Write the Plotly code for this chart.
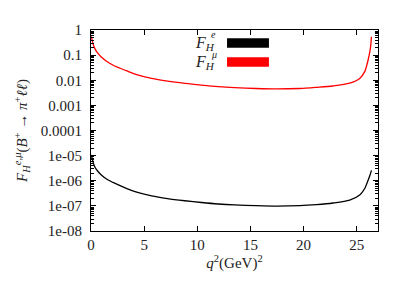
import plotly.graph_objects as go

# q^2 values (GeV^2)
q2 = [0.03, 0.15, 0.34, 0.6, 0.97, 1.5, 2.22, 3.32, 4.14, 5.7, 7.2, 8.83, 10.4, 11.96, 13.5,
      15.5, 17.5, 19.64, 21.2, 22.77, 24.34, 25.28, 25.75, 26.07, 26.25, 26.32, 26.38]
# F_H^mu (red)
f_mu = [0.56, 0.33, 0.19, 0.125, 0.085, 0.056, 0.037, 0.024, 0.0175, 0.0118, 0.0092, 0.0075,
        0.0064, 0.0056, 0.0051, 0.0047, 0.0045, 0.0047, 0.0052, 0.0059, 0.0076, 0.0118,
        0.022, 0.064, 0.15, 0.25, 0.54]
# F_H^e (black)
f_e = [1.07e-5, 6.5e-6, 3.7e-6, 2.5e-6, 1.7e-6, 1.15e-6, 8e-7, 5e-7, 3.7e-7, 2.5e-7, 1.95e-7,
       1.6e-7, 1.36e-7, 1.19e-7, 1.09e-7, 1.02e-7, 9.8e-8, 1.02e-7, 1.12e-7, 1.3e-7, 1.7e-7,
       2.7e-7, 4.9e-7, 1.05e-6, 1.7e-6, 2.1e-6, 2.6e-6]

ytick_vals = [1, 0.1, 0.01, 0.001, 0.0001, 1e-5, 1e-6, 1e-7, 1e-8]
ytick_text = ["1", "0.1", "0.01", "0.001", "0.0001", "1e-05", "1e-06", "1e-07", "1e-08"]
xtick_vals = [0, 5, 10, 15, 20, 25]

FONT = "Liberation Serif"

fig = go.Figure()
fig.add_trace(go.Scatter(x=q2, y=f_mu, mode="lines", line=dict(color="#ff0000", width=1.3, shape="spline", smoothing=0.8),
                         showlegend=False))
fig.add_trace(go.Scatter(x=q2, y=f_e, mode="lines", line=dict(color="#000000", width=1.3, shape="spline", smoothing=0.8),
                         showlegend=False))

axis_common = dict(showline=True, linecolor="black", linewidth=1, mirror="ticks", ticks="inside",
                   ticklen=5, tickcolor="black", showgrid=False, zeroline=False, automargin=False,
                   tickfont=dict(family=FONT, size=15, color="#222"))

fig.update_xaxes(range=[0, 27], tickvals=xtick_vals, **axis_common,
                 title=dict(text="<i>q</i><sup>2</sup>(GeV)<sup>2</sup>", font=dict(family=FONT, size=15, color="#222"),
                            standoff=0))
fig.update_yaxes(type="log", range=[-8, 0], tickvals=ytick_vals, ticktext=ytick_text, **axis_common,
                 ticklabelstandoff=5,
                 minor=dict(ticks="inside", ticklen=3, tickcolor="black", dtick="D1", showgrid=False),
                 title=dict(text="<i>F</i><sub><i>H</i></sub><sup><i>e,μ</i></sup>(<i>B</i><sup>+</sup> → <i>π</i><sup>+</sup><i>ℓℓ</i>)",
                            font=dict(family=FONT, size=15, color="#222"), standoff=9))

# legend keys (gnuplot style)
shapes = [
    dict(type="rect", xref="paper", yref="paper", x0=0.474, x1=0.620, y0=0.912, y1=0.959,
         fillcolor="black", line=dict(width=0)),
    dict(type="rect", xref="paper", yref="paper", x0=0.474, x1=0.620, y0=0.817, y1=0.864,
         fillcolor="#ff0000", line=dict(width=0)),
]
annotations = [
    dict(xref="paper", yref="paper", x=0.439, y=0.935, xanchor="right", yanchor="middle", showarrow=False,
         text="<i>F</i><sub><i>H</i></sub>", font=dict(family=FONT, size=16, color="#222")),
    dict(xref="paper", yref="paper", x=0.412, y=0.978, xanchor="left", yanchor="middle", showarrow=False,
         text="<i>e</i>", font=dict(family=FONT, size=10, color="#222")),
    dict(xref="paper", yref="paper", x=0.439, y=0.840, xanchor="right", yanchor="middle", showarrow=False,
         text="<i>F</i><sub><i>H</i></sub>", font=dict(family=FONT, size=16, color="#222")),
    dict(xref="paper", yref="paper", x=0.412, y=0.880, xanchor="left", yanchor="middle", showarrow=False,
         text="<i>μ</i>", font=dict(family=FONT, size=10, color="#222")),
]

fig.update_layout(width=407, height=285, margin=dict(l=91, r=29, t=30, b=54),
                  plot_bgcolor="white", paper_bgcolor="white", shapes=shapes, annotations=annotations,
                  font=dict(family=FONT, size=15, color="#222"), showlegend=False)

fig.write_html("out.html", post_script="document.body.style.margin='0';",
               config={"displayModeBar": False})
